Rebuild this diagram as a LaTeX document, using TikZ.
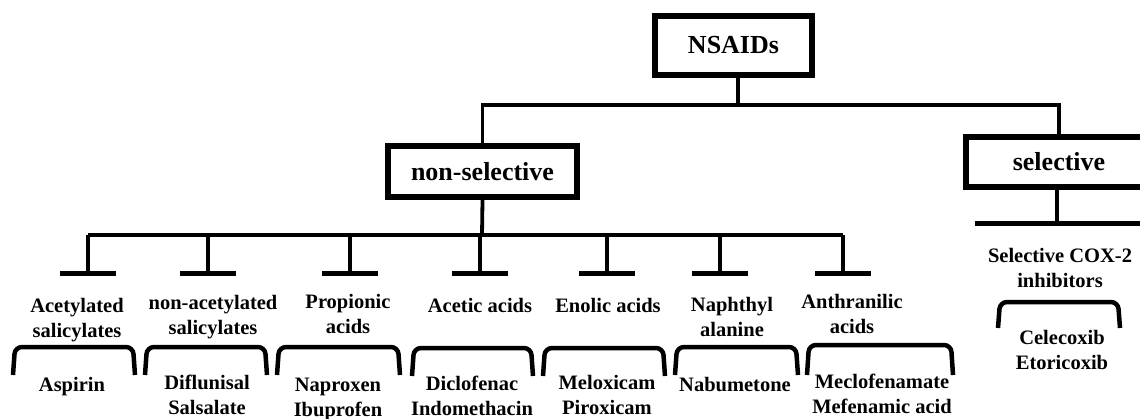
\documentclass[tikz,border=0pt]{standalone}
\usepackage{fontspec}
\setmainfont{Liberation Serif}
\begin{document}
\begin{tikzpicture}[x=1pt,y=-1pt,
  box/.style={draw,line width=5.5pt,inner sep=0pt,font=\fontsize{26}{28}\selectfont\bfseries},
  lbl/.style={inner sep=0pt,align=center,font=\fontsize{20.5}{25}\selectfont\bfseries},
  conn/.style={line width=3.8pt},
  tbar/.style={line width=5pt},
  brk/.style={line width=4.5pt,rounded corners=7pt}]
\useasboundingbox (0,0) rectangle (1140,418);
% main boxes
\node[box,minimum width=157pt,minimum height=59pt] (nsaid) at (733.5,45.5) {NSAIDs};
\node[box,minimum width=189pt,minimum height=51pt] (nonsel) at (482.5,171.5) {non-selective};
\node[box,minimum width=186pt,minimum height=50pt] (sel) at (1059,162) {selective};
\coordinate (j1) at (738,105);
\draw[conn] (nsaid.south -| j1) -- (j1);
\draw[conn] (nonsel.north) |- (j1) -| (sel.north);
% non-selective branch
\coordinate (j2) at (482,235);
\draw[conn] (nonsel.south) -- (j2);
\coordinate (h1) at (88,235);
\coordinate (h7) at (843,235);
\draw[conn] (h1) -- (h7);
\foreach \i/\x in {1/88,2/208,3/350,4/480,5/607,6/720,7/843}{
  \coordinate (t\i) at (\x,235);
  \coordinate (b\i) at (\x,273);
  \draw[conn] (t\i) -- (b\i);
  \draw[tbar] ([xshift=-28pt]b\i) -- ([xshift=28pt]b\i);
}
% selective branch
\coordinate (sb) at (1057,223);
\draw[conn] (sel.south -| sb) -- (sb);
\draw[tbar] (975,223) coordinate (sbl) -- (1145,223) coordinate (sbr);
% category labels
\node[lbl] (c1) at (77,320) {Acetylated\\salicylates};
\node[lbl] (c2) at (213,317) {non-acetylated\\salicylates};
\node[lbl] (c3) at (348,314) {Propionic\\acids};
\node[lbl] (c4) at (480,305) {Acetic acids};
\node[lbl] (c5) at (608,305) {Enolic acids};
\node[lbl] (c6) at (732,317) {Naphthyl\\alanine};
\node[lbl] (c7) at (852,314) {Anthranilic\\acids};
\node[lbl] (c8) at (1060,268) {Selective COX-2\\inhibitors};
% brackets
\foreach \l/\r/\t/\b in {13/135/347/375,145/267/347/375,277/400/347/375,412/533/348/376,543/665/348/376,675/798/347/375,807/953/345/375,998/1120/302/328}{
  \draw[brk] (\l,\b) -- (\l+2,\t) -- (\r-2,\t) -- (\r,\b);
}
% drug lists
\node[lbl] (d1) at (72,387) {Aspirin};
\node[lbl] (d2) at (207,395) {Diflunisal\\Salsalate};
\node[lbl] (d3) at (338,399) {Naproxen\\Ibuprofen};
\node[lbl] (d4) at (472,396) {Diclofenac\\Indomethacin};
\node[lbl] (d5) at (607,395) {Meloxicam\\Piroxicam};
\node[lbl] (d6) at (735,385) {Nabumetone};
\node[lbl] (d7) at (882,394) {Meclofenamate\\Mefenamic acid};
\node[lbl] (d8) at (1062,350) {Celecoxib\\Etoricoxib};
\end{tikzpicture}
\end{document}
